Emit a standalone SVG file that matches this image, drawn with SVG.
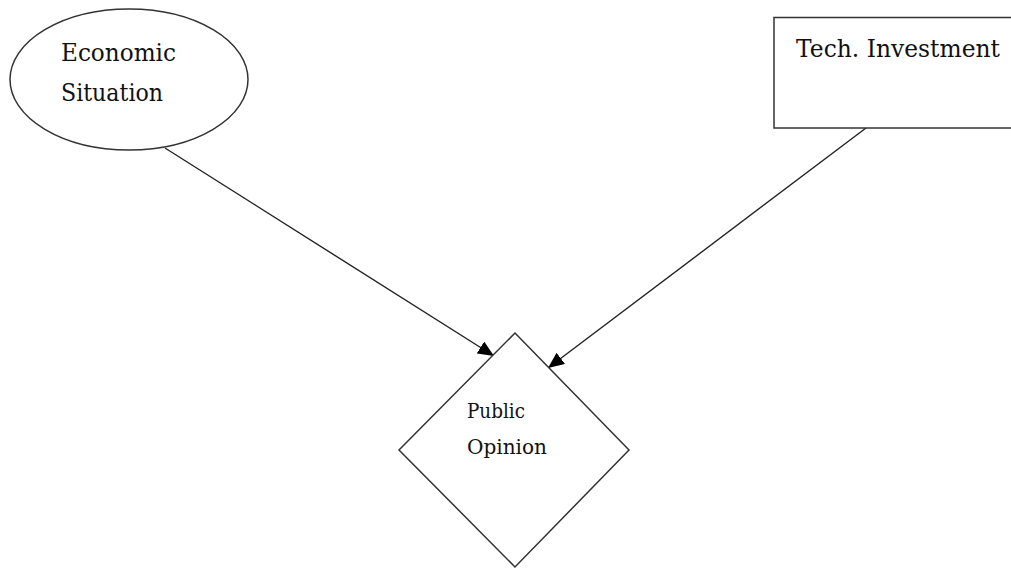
<svg xmlns="http://www.w3.org/2000/svg" width="1011" height="569" viewBox="0 0 1011 569">
  <style>
    .shape { fill: #ffffff; stroke: #333333; stroke-width: 1.5; }
    .label { font-family: 'DejaVu Serif', 'Times New Roman', serif; fill: #111111; }
    .edge { fill: none; stroke: #222222; stroke-width: 1.4; }
  </style>
  <defs>
    <marker id="arrow" markerUnits="userSpaceOnUse" markerWidth="18" markerHeight="14" refX="16" refY="7" orient="auto">
      <path d="M0,0 L16,7 L0,14 Z" fill="#000000"/>
    </marker>
  </defs>
  <rect width="1011" height="569" fill="#ffffff"/>

  <!-- arrows into the diamond -->
  <g id="connectors">
    <line class="edge" x1="165" y1="148" x2="494" y2="356" marker-end="url(#arrow)"/>
    <line class="edge" x1="866" y1="128" x2="548" y2="368" marker-end="url(#arrow)"/>
  </g>

  <g id="economic-situation">
    <ellipse class="shape" cx="129" cy="79.5" rx="119" ry="70.5"/>
    <text class="label" x="61" y="61" font-size="24" textLength="115" lengthAdjust="spacingAndGlyphs">Economic</text>
    <text class="label" x="61" y="101" font-size="24" textLength="102" lengthAdjust="spacingAndGlyphs">Situation</text>
  </g>

  <!-- box runs past the right edge of the canvas -->
  <g id="tech-investment">
    <rect class="shape" x="774" y="17.5" width="250" height="110.5"/>
    <text class="label" x="796" y="57" font-size="24" textLength="204" lengthAdjust="spacingAndGlyphs">Tech. Investment</text>
  </g>

  <g id="public-opinion">
    <polygon class="shape" points="515,333 629,450 515,567 399,450"/>
    <text class="label" x="467" y="418" font-size="20.5" textLength="58" lengthAdjust="spacingAndGlyphs">Public</text>
    <text class="label" x="467" y="454" font-size="20.5" textLength="80" lengthAdjust="spacingAndGlyphs">Opinion</text>
  </g>
</svg>
